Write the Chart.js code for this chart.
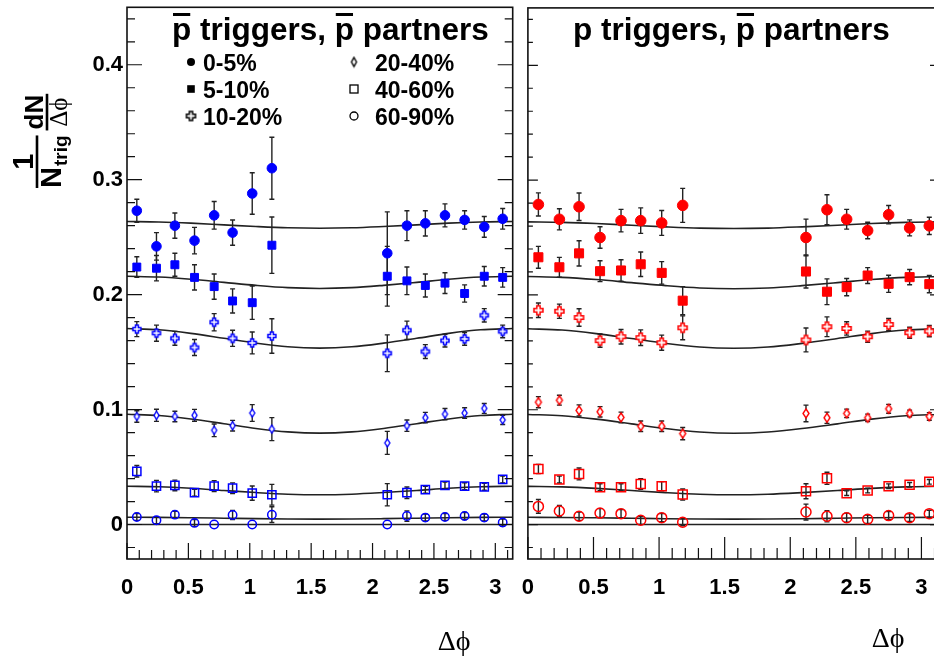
<!DOCTYPE html>
<html>
<head>
<meta charset="utf-8">
<title>Delta phi correlations</title>
<script src="https://cdn.jsdelivr.net/npm/chart.js@4.4.1/dist/chart.umd.min.js"></script>
<style>
  html, body { margin: 0; padding: 0; background: #fff; }
  #wrap { position: relative; width: 934px; height: 661px; overflow: hidden; background: #fff; }
  canvas { position: absolute; top: 0; }
  #pbarPanel { left: 0; }
  #pPanel { left: 520px; }
</style>
</head>
<body>
<div id="wrap">
  <canvas id="pbarPanel" width="520" height="661"></canvas>
  <canvas id="pPanel" width="430" height="661"></canvas>
</div>
<script>
var dphi = [0.08, 0.24, 0.39, 0.55, 0.71, 0.86, 1.02, 1.18, 2.12, 2.28, 2.43, 2.59, 2.75, 2.91, 3.06];
var centralities = ['0-5%', '5-10%', '10-20%', '20-40%', '40-60%', '60-90%'];
var xTicks = [0, 0.5, 1, 1.5, 2, 2.5, 3];
var yTicks = [0, 0.1, 0.2, 0.3, 0.4];

// pbar triggers, pbar partners
var pbar05 = [0.273, 0.242, 0.260, 0.247, 0.269, 0.254, 0.288, 0.310, 0.236, 0.260, 0.262, 0.269, 0.265, 0.259, 0.266];
var pbar05Err = [0.010, 0.012, 0.011, 0.0115, 0.012, 0.011, 0.018, 0.027, 0.036, 0.013, 0.011, 0.010, 0.008, 0.009, 0.009];
var pbar510 = [0.224, 0.223, 0.226, 0.215, 0.207, 0.1945, 0.193, 0.243, 0.216, 0.212, 0.208, 0.210, 0.201, 0.216, 0.215];
var pbar510Err = [0.009, 0.011, 0.010, 0.011, 0.011, 0.0105, 0.0145, 0.0245, 0.026, 0.012, 0.010, 0.009, 0.0075, 0.0085, 0.0085];
var pbar1020 = [0.170, 0.1665, 0.162, 0.154, 0.176, 0.162, 0.158, 0.164, 0.149, 0.169, 0.1505, 0.160, 0.1615, 0.182, 0.168];
var pbar1020Err = [0.0065, 0.007, 0.006, 0.007, 0.0075, 0.007, 0.0095, 0.015, 0.016, 0.008, 0.006, 0.0055, 0.0055, 0.0058, 0.0055];
var pbar2040 = [0.094, 0.095, 0.094, 0.095, 0.082, 0.086, 0.097, 0.083, 0.071, 0.086, 0.093, 0.096, 0.097, 0.101, 0.091];
var pbar2040Err = [0.005, 0.0053, 0.0046, 0.0052, 0.0055, 0.0046, 0.0073, 0.010, 0.010, 0.005, 0.0046, 0.0049, 0.0046, 0.0043, 0.004];
var pbar4060 = [0.0463, 0.0334, 0.034, 0.0277, 0.0334, 0.0316, 0.0273, 0.0259, 0.0259, 0.0277, 0.0303, 0.034, 0.0334, 0.0328, 0.0392];
var pbar4060Err = [0.005, 0.005, 0.0046, 0.003, 0.0048, 0.0046, 0.0062, 0.009, 0.0097, 0.005, 0.003, 0.003, 0.003, 0.003, 0.003];
var pbar6090 = [0.0066, 0.0037, 0.0086, 0.0014, 0.0, 0.0083, 0.0, 0.0086, 0.0, 0.0074, 0.006, 0.0066, 0.0074, 0.006, 0.0017];
var pbar6090Err = [0.003, 0.003, 0.003, 0.003, 0, 0.004, 0, 0.0069, 0, 0.0045, 0.003, 0.003, 0.003, 0.003, 0.003];

// p triggers, pbar partners
var p05 = [0.2788, 0.2659, 0.2768, 0.250, 0.2647, 0.2647, 0.2627, 0.278, 0.250, 0.2742, 0.2659, 0.2561, 0.2699, 0.2584, 0.2602];
var p05Err = [0.0101, 0.0092, 0.012, 0.0094, 0.0098, 0.0111, 0.0108, 0.0148, 0.016, 0.013, 0.0086, 0.0072, 0.008, 0.007, 0.0075];
var p510 = [0.2328, 0.2241, 0.2362, 0.2207, 0.2213, 0.2267, 0.2192, 0.195, 0.2204, 0.2028, 0.2068, 0.2169, 0.2097, 0.2155, 0.2094];
var p510Err = [0.0095, 0.0086, 0.011, 0.0091, 0.0094, 0.0107, 0.0098, 0.0122, 0.0144, 0.0112, 0.0075, 0.0069, 0.0075, 0.0066, 0.0075];
var p1020 = [0.1867, 0.1858, 0.1803, 0.1602, 0.1636, 0.1628, 0.1584, 0.1714, 0.1608, 0.1723, 0.1708, 0.1636, 0.1742, 0.1671, 0.1685];
var p1020Err = [0.0063, 0.0062, 0.0076, 0.0058, 0.0063, 0.0068, 0.0066, 0.0104, 0.0104, 0.0086, 0.0058, 0.0049, 0.0053, 0.0048, 0.0049];
var p2040 = [0.1066, 0.1083, 0.0994, 0.0982, 0.0933, 0.0856, 0.0856, 0.0792, 0.0968, 0.093, 0.0968, 0.093, 0.1008, 0.0968, 0.0942];
var p2040Err = [0.0048, 0.0043, 0.0048, 0.0045, 0.0046, 0.0046, 0.0046, 0.0053, 0.0072, 0.0049, 0.0037, 0.0032, 0.0039, 0.0029, 0.0033];
var p4060 = [0.0484, 0.0392, 0.0441, 0.0325, 0.0325, 0.0354, 0.0334, 0.0262, 0.029, 0.0403, 0.0273, 0.0296, 0.0334, 0.0346, 0.0372];
var p4060Err = [0.004, 0.003, 0.0052, 0.003, 0.003, 0.0046, 0.004, 0.0048, 0.0065, 0.0053, 0.002, 0.002, 0.002, 0.002, 0.002];
var p6090 = [0.0158, 0.0118, 0.0072, 0.010, 0.0095, 0.0037, 0.006, 0.002, 0.0109, 0.0072, 0.006, 0.0046, 0.0078, 0.006, 0.0095];
var p6090Err = [0.006, 0.0048, 0.0036, 0.0039, 0.0036, 0.0035, 0.0036, 0.003, 0.0069, 0.0049, 0.004, 0.0036, 0.0036, 0.0033, 0.003];

// fitted flow background, same curves in both panels
var fitPhi = [0, 0.26, 0.52, 0.79, 1.05, 1.31, 1.57, 1.83, 2.09, 2.36, 2.62, 2.88, 3.1416];
var fit05 = [0.2636, 0.2632, 0.2622, 0.2607, 0.2593, 0.2582, 0.2578, 0.2582, 0.2593, 0.2607, 0.2622, 0.2632, 0.2636];
var fit510 = [0.2160, 0.2153, 0.2134, 0.2107, 0.2081, 0.2061, 0.2054, 0.2061, 0.2081, 0.2107, 0.2134, 0.2153, 0.2160];
var fit1020 = [0.1705, 0.1694, 0.1663, 0.1620, 0.1578, 0.1546, 0.1535, 0.1546, 0.1578, 0.1620, 0.1663, 0.1694, 0.1705];
var fit2040 = [0.0959, 0.0948, 0.0918, 0.0877, 0.0836, 0.0806, 0.0795, 0.0806, 0.0836, 0.0877, 0.0918, 0.0948, 0.0959];
var fit4060 = [0.0333, 0.0328, 0.0315, 0.0296, 0.0278, 0.0264, 0.0259, 0.0264, 0.0278, 0.0296, 0.0315, 0.0328, 0.0333];
var fit6090 = [0.0063, 0.0062, 0.0059, 0.0055, 0.0051, 0.0048, 0.0047, 0.0048, 0.0051, 0.0055, 0.0059, 0.0062, 0.0063];
var zeroPhi = [0, 3.1416];
var zeroLevel = [0, 0];

var SANS = '"Liberation Sans", Arial, Helvetica, sans-serif';
var SERIF = '"Liberation Serif", "Times New Roman", serif';

// small sprite markers the library has no built-in style for
function crossMarker(colour, s) {
  var c = document.createElement('canvas');
  c.width = c.height = s + 4;
  var g = c.getContext('2d');
  var m = (s + 4) / 2, a = s / 2, b = s / 5.5;
  g.beginPath();
  g.moveTo(m - b, m - a); g.lineTo(m + b, m - a); g.lineTo(m + b, m - b); g.lineTo(m + a, m - b);
  g.lineTo(m + a, m + b); g.lineTo(m + b, m + b); g.lineTo(m + b, m + a); g.lineTo(m - b, m + a);
  g.lineTo(m - b, m + b); g.lineTo(m - a, m + b); g.lineTo(m - a, m - b); g.lineTo(m - b, m - b);
  g.closePath();
  g.fillStyle = '#fff'; g.fill();
  g.strokeStyle = colour; g.lineWidth = 1.5; g.stroke();
  return c;
}

function diamondMarker(colour, w, h) {
  var c = document.createElement('canvas');
  c.width = w + 4; c.height = h + 4;
  var g = c.getContext('2d');
  var cx = c.width / 2, cy = c.height / 2;
  g.beginPath();
  g.moveTo(cx, cy - h / 2); g.lineTo(cx + w / 2, cy); g.lineTo(cx, cy + h / 2); g.lineTo(cx - w / 2, cy);
  g.closePath();
  g.fillStyle = '#fff'; g.fill();
  g.strokeStyle = colour; g.lineWidth = 1.4; g.stroke();
  return c;
}

function points(xs, ys) {
  return xs.map(function (x, i) { return { x: x, y: ys[i] }; });
}

function buildDatasets(series, errors, colour, look) {
  var sets = [];
  [fit05, fit510, fit1020, fit2040, fit4060, fit6090].forEach(function (f) {
    sets.push({
      data: points(fitPhi, f), showLine: true, fill: false,
      borderColor: '#222', borderWidth: 1.6, pointRadius: 0,
      cubicInterpolationMode: 'monotone', order: 2
    });
  });
  sets.push({
    data: points(zeroPhi, zeroLevel), showLine: true, fill: false,
    borderColor: '#222', borderWidth: 1.6, pointRadius: 0, order: 2
  });
  var styles = [
    { pointStyle: 'circle', pointRadius: look.disc, backgroundColor: colour, borderColor: colour, pointBorderWidth: 1 },
    { pointStyle: 'rect', pointRadius: look.box, backgroundColor: colour, borderColor: colour, pointBorderWidth: 1 },
    { pointStyle: crossMarker(colour, look.cross), pointRadius: look.cross / 2 },
    { pointStyle: diamondMarker(colour, look.diamond[0], look.diamond[1]), pointRadius: 4 },
    { pointStyle: 'rect', pointRadius: look.square, backgroundColor: 'rgba(0,0,0,0)', borderColor: colour, pointBorderWidth: 1.5 },
    { pointStyle: 'circle', pointRadius: look.ring, backgroundColor: 'rgba(0,0,0,0)', borderColor: colour, pointBorderWidth: 1.5 }
  ];
  series.forEach(function (vals, k) {
    var ds = {
      label: centralities[k],
      data: points(dphi, vals),
      errors: errors[k],
      showLine: false,
      order: 1
    };
    Object.keys(styles[k]).forEach(function (key) { ds[key] = styles[k][key]; });
    sets.push(ds);
  });
  return sets;
}

var errorBars = {
  id: 'errorBars',
  beforeDatasetsDraw: function (chart) {
    var ctx = chart.ctx, xs = chart.scales.x, ys = chart.scales.y, a = chart.chartArea;
    ctx.save();
    ctx.beginPath();
    ctx.rect(a.left, a.top, a.right - a.left, a.bottom - a.top);
    ctx.clip();
    ctx.strokeStyle = '#222';
    ctx.lineWidth = 1.4;
    chart.data.datasets.forEach(function (ds) {
      if (!ds.errors) return;
      ds.data.forEach(function (pt, i) {
        var e = ds.errors[i];
        if (!e) return;
        var px = xs.getPixelForValue(pt.x);
        var lo = ys.getPixelForValue(pt.y - e), hi = ys.getPixelForValue(pt.y + e);
        ctx.beginPath();
        ctx.moveTo(px, lo); ctx.lineTo(px, hi);
        ctx.moveTo(px - 2.5, lo); ctx.lineTo(px + 2.5, lo);
        ctx.moveTo(px - 2.5, hi); ctx.lineTo(px + 2.5, hi);
        ctx.stroke();
      });
    });
    ctx.restore();
  }
};

// inward pointing ticks and the pad frame
function drawFrame(chart, t) {
  var ctx = chart.ctx, a = chart.chartArea, xs = chart.scales.x, ys = chart.scales.y;
  var k, px, py, len;
  ctx.save();
  ctx.strokeStyle = '#111';
  ctx.lineWidth = 1.2;
  ctx.beginPath();
  for (k = 0; k <= 31; k++) {
    px = xs.getPixelForValue(k / 10);
    len = k % 5 === 0 ? t.xMajor : t.xMinor;
    ctx.moveTo(px, a.bottom); ctx.lineTo(px, a.bottom - len);
  }
  for (k = -1; k <= 22; k++) {
    py = ys.getPixelForValue(k / 50);
    len = k % 5 === 0 ? t.yMajor : t.yMinor;
    ctx.moveTo(a.left, py); ctx.lineTo(a.left + len, py);
    ctx.moveTo(a.right, py); ctx.lineTo(a.right - len, py);
  }
  ctx.stroke();
  ctx.lineWidth = 1.6;
  ctx.strokeRect(a.left, a.top, a.right - a.left, a.bottom - a.top);
  ctx.restore();
}

function drawTitle(ctx, text, bars, x0, base) {
  ctx.save();
  ctx.fillStyle = '#000';
  ctx.font = 'bold 31.5px ' + SANS;
  ctx.textAlign = 'left';
  ctx.textBaseline = 'alphabetic';
  ctx.fillText(text, x0, base);
  bars.forEach(function (i) {
    var bx = x0 + ctx.measureText(text.slice(0, i)).width;
    var bw = ctx.measureText(text.charAt(i)).width;
    ctx.fillRect(bx + 1, base - 27, bw - 2, 3);
  });
  ctx.restore();
}

function drawAxisTitle(ctx, cx, base) {
  ctx.save();
  ctx.fillStyle = '#000';
  ctx.font = '28px ' + SERIF;
  ctx.textAlign = 'center';
  ctx.fillText('Δϕ', cx, base);
  ctx.restore();
}

function legendMarker(ctx, kind, x, y) {
  ctx.save();
  ctx.fillStyle = '#000';
  ctx.strokeStyle = '#000';
  ctx.lineWidth = 1.3;
  if (kind === 0) { ctx.beginPath(); ctx.arc(x, y, 4, 0, 2 * Math.PI); ctx.fill(); }
  if (kind === 1) { ctx.fillRect(x - 3.8, y - 3.8, 7.6, 7.6); }
  if (kind === 2) { var c = crossMarker('#000', 9); ctx.drawImage(c, x - c.width / 2, y - c.height / 2); }
  if (kind === 3) { var d = diamondMarker('#000', 5, 9); ctx.drawImage(d, x - d.width / 2, y - d.height / 2); }
  if (kind === 4) { ctx.strokeRect(x - 4, y - 4, 8, 8); }
  if (kind === 5) { ctx.beginPath(); ctx.arc(x, y, 4, 0, 2 * Math.PI); ctx.stroke(); }
  ctx.restore();
}

function drawLegend(ctx) {
  var rows = [62, 89, 116];
  ctx.save();
  ctx.fillStyle = '#000';
  ctx.font = 'bold 23px ' + SANS;
  ctx.textBaseline = 'alphabetic';
  centralities.forEach(function (label, k) {
    var col = k < 3 ? 0 : 1, row = k % 3;
    var mx = col === 0 ? 191 : 354, tx = col === 0 ? 203 : 375;
    legendMarker(ctx, k, mx, rows[row]);
    ctx.fillText(label, tx, rows[row] + 9);
  });
  ctx.restore();
}

function drawYTitle(ctx) {
  ctx.save();
  ctx.fillStyle = '#000';
  // reading direction runs up the page
  ctx.translate(37, 188);
  ctx.rotate(-Math.PI / 2);
  ctx.textBaseline = 'alphabetic';
  ctx.font = 'bold 29px ' + SANS;
  var wN = ctx.measureText('N').width;
  ctx.font = 'bold 19px ' + SANS;
  var wT = ctx.measureText('trig').width;
  var w1 = wN + wT + 1;
  ctx.fillRect(0, -1.3, w1, 2.6);
  ctx.font = 'bold 29px ' + SANS;
  ctx.textAlign = 'center';
  ctx.fillText('1', w1 / 2, -4);
  ctx.textAlign = 'left';
  ctx.fillText('N', 0, 24);
  ctx.font = 'bold 19px ' + SANS;
  ctx.fillText('trig', wN + 1, 30);
  // dN over delta phi, its bar sits a little further right
  var u = w1 + 5, v = 10;
  ctx.font = 'bold 26px ' + SANS;
  var wd = ctx.measureText('dN').width;
  ctx.font = '25px ' + SERIF;
  var wp = ctx.measureText('Δϕ').width;
  var w2 = Math.max(wd, wp) + 2;
  ctx.fillRect(u, v - 1.3, w2, 2.6);
  ctx.textAlign = 'center';
  ctx.font = 'bold 26px ' + SANS;
  ctx.fillText('dN', u + w2 / 2, v - 4);
  ctx.font = '25px ' + SERIF;
  ctx.fillText('Δϕ', u + w2 / 2, v + 20);
  ctx.restore();
}

function decor(cfg) {
  return {
    id: 'decor',
    afterDraw: function (chart) {
      var ctx = chart.ctx;
      drawFrame(chart, cfg.ticks);
      drawTitle(ctx, cfg.title, cfg.bars, cfg.titleX, 40);
      drawAxisTitle(ctx, cfg.axisX, cfg.axisBase);
      if (cfg.legend) drawLegend(ctx);
      if (cfg.yTitle) drawYTitle(ctx);
    }
  };
}

function noPadding(s) {
  s.paddingLeft = 0; s.paddingRight = 0; s.paddingTop = 0; s.paddingBottom = 0;
}

function scales(yWidth, showYLabels) {
  return {
    x: {
      type: 'linear', min: 0, max: Math.PI,
      grid: { display: false, drawTicks: false },
      border: { display: false },
      afterBuildTicks: function (s) { s.ticks = xTicks.map(function (v) { return { value: v }; }); },
      afterFit: function (s) { s.height = 102; noPadding(s); },
      ticks: {
        color: '#000', padding: 16, maxRotation: 0, autoSkip: false,
        font: { family: SANS, size: 22, weight: 'bold' },
        callback: function (v) { return String(v); }
      }
    },
    y: {
      type: 'linear', min: -0.03, max: 0.45,
      grid: { display: false, drawTicks: false },
      border: { display: false },
      afterBuildTicks: function (s) { s.ticks = yTicks.map(function (v) { return { value: v }; }); },
      afterFit: function (s) { s.width = yWidth; noPadding(s); },
      ticks: {
        display: showYLabels, color: '#000', padding: 4,
        font: { family: SANS, size: 22, weight: 'bold' },
        callback: function (v) { return String(v); }
      }
    }
  };
}

function panel(id, series, errors, colour, look, yWidth, rightPad, showY, cfg) {
  return new Chart(document.getElementById(id), {
    type: 'scatter',
    data: { datasets: buildDatasets(series, errors, colour, look) },
    options: {
      responsive: false,
      animation: false,
      layout: { padding: { top: 3, right: rightPad, left: 0, bottom: 0 } },
      plugins: { legend: { display: false }, tooltip: { enabled: false } },
      scales: scales(yWidth, showY)
    },
    plugins: [errorBars, decor(cfg)]
  });
}

panel('pbarPanel',
  [pbar05, pbar510, pbar1020, pbar2040, pbar4060, pbar6090],
  [pbar05Err, pbar510Err, pbar1020Err, pbar2040Err, pbar4060Err, pbar6090Err],
  '#0000ff',
  { disc: 4.8, box: 5.6, cross: 8, diamond: [5, 8], square: 5.8, ring: 4.2 },
  127, 7, true,
  {
    title: 'p triggers, p partners', bars: [0, 12], titleX: 172,
    axisX: 454, axisBase: 650, legend: true, yTitle: true,
    ticks: { xMajor: 16, xMinor: 9, yMajor: 15, yMinor: 8 }
  });

panel('pPanel',
  [p05, p510, p1020, p2040, p4060, p6090],
  [p05Err, p510Err, p1020Err, p2040Err, p4060Err, p6090Err],
  '#ff0000',
  { disc: 5.3, box: 6.4, cross: 9, diamond: [6, 9], square: 6.4, ring: 5 },
  7, 10, false,
  {
    title: 'p triggers, p partners', bars: [12], titleX: 53,
    axisX: 368, axisBase: 647, legend: false, yTitle: false,
    ticks: { xMajor: 22, xMinor: 11, yMajor: 10, yMinor: 5 }
  });
</script>
</body>
</html>
